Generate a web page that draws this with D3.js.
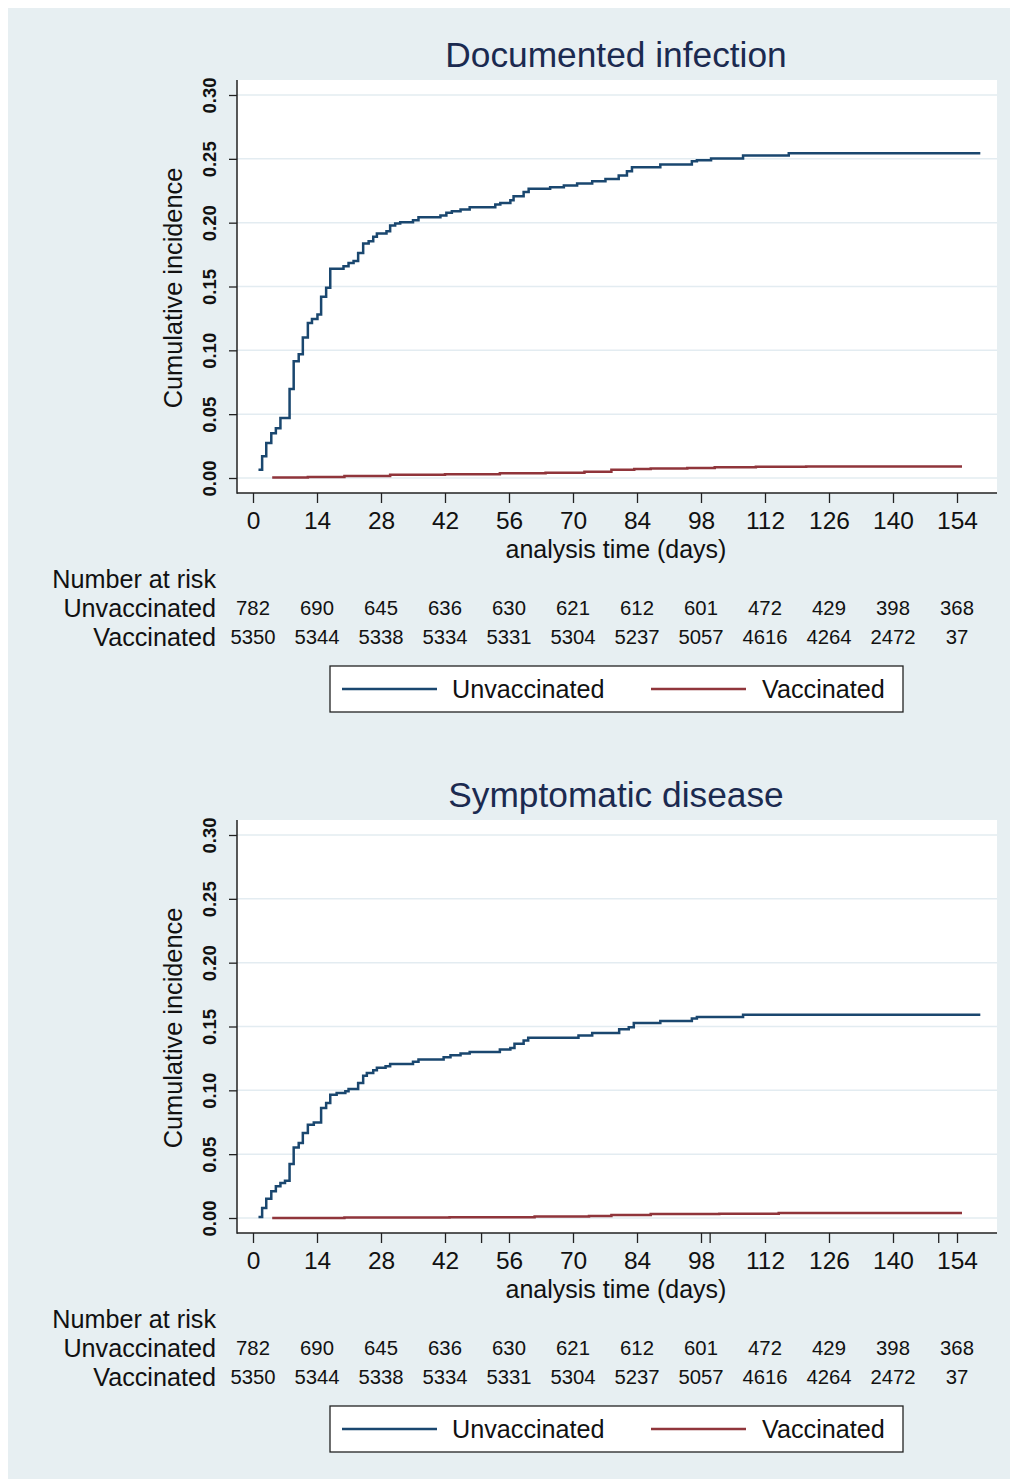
<!DOCTYPE html>
<html>
<head>
<meta charset="utf-8">
<script src="https://cdn.jsdelivr.net/npm/d3@7"></script>
<style>
  html, body { margin: 0; padding: 0; background: #ffffff; }
  svg { display: block; }
  text { font-family: "Liberation Sans", Arial, Helvetica, sans-serif; }
</style>
</head>
<body>
<svg id="chart" width="1010" height="1479"></svg>
<script>
// ---------------- data ----------------
const panelTitles = ["Documented infection", "Symptomatic disease"];
const seriesNames = ["Unvaccinated", "Vaccinated"];
const xTicks = [0, 14, 28, 42, 56, 70, 84, 98, 112, 126, 140, 154];
const yTicks = [0, 0.05, 0.10, 0.15, 0.20, 0.25, 0.30];
const extraTicksBottom = [50, 100, 150];
const riskUnvaccinated = [782, 690, 645, 636, 630, 621, 612, 601, 472, 429, 398, 368];
const riskVaccinated = [5350, 5344, 5338, 5334, 5331, 5304, 5237, 5057, 4616, 4264, 2472, 37];

// Documented infection — unvaccinated (step times in days, cumulative incidence)
const docUnvacDays = [1.2, 2, 2.9, 4, 5, 6, 8, 8.9, 10, 10.9, 12, 12.9, 14.1, 14.9, 16, 16.9, 19.8, 20.9,
  22, 23, 24.1, 25.3, 26.3, 27.1, 29.2, 30, 31.1, 32.2, 35, 36.2, 41, 42.3, 43.5, 45.4, 47.4, 53,
  54.1, 56.3, 57, 59.2, 60.3, 65, 68, 70.9, 74.2, 77.1, 80, 81.8, 82.9, 89.1, 96, 97.1, 100.2, 107.2,
  117.2, 159.1];
const docUnvacVals = [0.0065, 0.017, 0.0274, 0.035, 0.039, 0.047, 0.0697, 0.0914, 0.097, 0.110, 0.1215, 0.1246,
  0.128, 0.142, 0.149, 0.164, 0.1658, 0.1685, 0.170, 0.1763, 0.1836, 0.1854, 0.1889, 0.1915,
  0.1933, 0.1977, 0.1993, 0.2003, 0.2019, 0.2042, 0.2056, 0.2077, 0.209, 0.2103, 0.212, 0.2142,
  0.2155, 0.2176, 0.2207, 0.2241, 0.2265, 0.2278, 0.2291, 0.2306, 0.2324, 0.2343, 0.2369, 0.2403,
  0.2434, 0.2455, 0.2481, 0.2489, 0.2502, 0.2526, 0.2544, 0.2544];
// Documented infection — vaccinated
const docVacDays = [4.2, 12, 20, 30, 42, 54, 64, 72.5, 78.4, 83.4, 87, 95, 101, 110, 121, 155.1];
const docVacVals = [0.0003, 0.0008, 0.0015, 0.0026, 0.003, 0.0037, 0.0042, 0.0048, 0.0065, 0.007,
  0.0074, 0.0079, 0.0085, 0.0088, 0.0091, 0.0091];

// Symptomatic disease — unvaccinated
const symUnvacDays = [1.2, 2, 2.9, 4, 5, 6, 7, 8, 8.9, 10, 10.9, 12, 13.3, 14.9, 16, 16.9, 18.3, 20.2, 20.9,
  23, 24.1, 24.9, 26.3, 27.1, 29, 30, 35, 36.2, 41.7, 43.2, 45.4, 47.4, 54, 56.3, 57.2, 59.2, 60.2,
  71.2, 74.2, 80.1, 82.2, 83.3, 89.1, 96, 97.1, 107.2, 159.1];
const symUnvacVals = [0.0008, 0.0078, 0.0151, 0.0209, 0.0248, 0.0274, 0.0292, 0.0423, 0.0553, 0.0588, 0.0666,
  0.0731, 0.0749, 0.0862, 0.0901, 0.0966, 0.098, 0.0992, 0.1011, 0.1058, 0.1115, 0.1136, 0.1157,
  0.1176, 0.1188, 0.1207, 0.1223, 0.1241, 0.1259, 0.1275, 0.1288, 0.1301, 0.1319, 0.1332, 0.1364,
  0.139, 0.1411, 0.1429, 0.145, 0.1478, 0.1494, 0.1528, 0.1544, 0.1562, 0.1575, 0.1593, 0.1593];
// Symptomatic disease — vaccinated
const symVacDays = [4.2, 20, 43, 61.6, 73.5, 78.4, 87, 102, 115, 155.1];
const symVacVals = [0.0, 0.0003, 0.0005, 0.0012, 0.0016, 0.0023, 0.0031, 0.0034, 0.0039, 0.0039];

// ---------------- drawing ----------------
const colors = ["#1a476f", "#90353b"];
const bg = "#e7eff2";
const svg = d3.select("#chart");

svg.append("rect").attr("x", 8).attr("y", 8).attr("width", 1002).attr("height", 1471).attr("fill", bg);

const plotLeft = 237, plotRight = 997, plotTop = 80, plotBottom = 493;
const x = d3.scaleLinear().domain([0, 154]).range([253, 957]);
const y = d3.scaleLinear().domain([0, 0.30]).range([478, 95]);

function drawPanel(idx, offset, curves, extraTicks) {
  const g = svg.append("g").attr("transform", `translate(0,${offset})`);

  // title
  g.append("text").attr("x", 616).attr("y", 67).attr("text-anchor", "middle")
    .attr("font-size", 35.3).attr("fill", "#1b2a50").text(panelTitles[idx]);

  // plot region
  g.append("rect").attr("x", plotLeft).attr("y", plotTop)
    .attr("width", plotRight - plotLeft).attr("height", plotBottom - plotTop).attr("fill", "#ffffff");

  // gridlines
  g.append("g").selectAll("line").data(yTicks).join("line")
    .attr("x1", plotLeft).attr("x2", plotRight)
    .attr("y1", d => y(d)).attr("y2", d => y(d))
    .attr("stroke", "#e3ecf1").attr("stroke-width", 1.5);

  // curves
  const line = d3.line().x(d => x(d[0])).y(d => y(d[1])).curve(d3.curveStepAfter);
  curves.forEach((c, i) => {
    const pts = c.days.map((d, k) => [d, c.vals[k]]);
    g.append("path").datum(pts).attr("d", line).attr("fill", "none")
      .attr("stroke", colors[i]).attr("stroke-width", 2.5);
  });

  // y axis
  const yAxis = d3.axisLeft(y).tickValues(yTicks).tickSize(8).tickPadding(4).tickFormat(d3.format(".2f"));
  const ya = g.append("g").attr("transform", `translate(${plotLeft},0)`).call(yAxis);
  ya.select(".domain").remove();
  ya.selectAll(".tick line").attr("stroke", "#222").attr("stroke-width", 1.3);
  ya.selectAll(".tick text").attr("font-size", 18.5).attr("font-weight", "bold").attr("fill", "#111")
    .attr("text-anchor", "middle").attr("x", null).attr("dy", null)
    .attr("transform", "translate(-21,0) rotate(-90)").attr("y", 0);
  g.append("line").attr("x1", plotLeft).attr("x2", plotLeft).attr("y1", plotTop).attr("y2", plotBottom + 0.7)
    .attr("stroke", "#222").attr("stroke-width", 1.5);

  // x axis
  const xAxis = d3.axisBottom(x).tickValues(xTicks).tickSize(10).tickPadding(9).tickFormat(d3.format("d"));
  const xa = g.append("g").attr("transform", `translate(0,${plotBottom})`).call(xAxis);
  xa.select(".domain").remove();
  xa.selectAll(".tick line").attr("stroke", "#222").attr("stroke-width", 1.3);
  xa.selectAll(".tick text").attr("font-size", 24.5).attr("fill", "#111");
  if (extraTicks) {
    xa.append("g").selectAll("line").data(extraTicks).join("line")
      .attr("x1", d => x(d)).attr("x2", d => x(d)).attr("y1", 0).attr("y2", 10)
      .attr("stroke", "#222").attr("stroke-width", 1.3);
  }
  g.append("line").attr("x1", plotLeft).attr("x2", plotRight).attr("y1", plotBottom).attr("y2", plotBottom)
    .attr("stroke", "#222").attr("stroke-width", 1.5);

  // axis titles
  g.append("text").attr("transform", "translate(182,288) rotate(-90)").attr("text-anchor", "middle")
    .attr("font-size", 25.3).attr("fill", "#111").text("Cumulative incidence");
  g.append("text").attr("x", 616).attr("y", 558).attr("text-anchor", "middle")
    .attr("font-size", 25).attr("fill", "#111").text("analysis time (days)");

  // number at risk
  g.append("text").attr("x", 216).attr("y", 588).attr("text-anchor", "end")
    .attr("font-size", 25.2).attr("fill", "#111").text("Number at risk");
  g.append("text").attr("x", 216).attr("y", 617).attr("text-anchor", "end")
    .attr("font-size", 25.2).attr("fill", "#111").text(seriesNames[0]);
  g.append("text").attr("x", 216).attr("y", 646).attr("text-anchor", "end")
    .attr("font-size", 25.2).attr("fill", "#111").text(seriesNames[1]);
  g.append("g").selectAll("text").data(riskUnvaccinated).join("text")
    .attr("x", (d, i) => x(xTicks[i])).attr("y", 615).attr("text-anchor", "middle")
    .attr("font-size", 20.3).attr("fill", "#111").text(d => d);
  g.append("g").selectAll("text").data(riskVaccinated).join("text")
    .attr("x", (d, i) => x(xTicks[i])).attr("y", 644).attr("text-anchor", "middle")
    .attr("font-size", 20.3).attr("fill", "#111").text(d => d);

  // legend
  const lg = g.append("g");
  lg.append("rect").attr("x", 330).attr("y", 666).attr("width", 573).attr("height", 46)
    .attr("fill", "#ffffff").attr("stroke", "#222").attr("stroke-width", 1.3);
  const legendItems = [{lx: 342, tx: 452}, {lx: 651, tx: 762}];
  legendItems.forEach((it, i) => {
    lg.append("line").attr("x1", it.lx).attr("x2", it.lx + 95).attr("y1", 689).attr("y2", 689)
      .attr("stroke", colors[i]).attr("stroke-width", 2.5);
    lg.append("text").attr("x", it.tx).attr("y", 698).attr("font-size", 25.2).attr("fill", "#111")
      .text(seriesNames[i]);
  });
}

drawPanel(0, 0, [
  {days: docUnvacDays, vals: docUnvacVals},
  {days: docVacDays, vals: docVacVals}
], null);
drawPanel(1, 740, [
  {days: symUnvacDays, vals: symUnvacVals},
  {days: symVacDays, vals: symVacVals}
], extraTicksBottom);
</script>
</body>
</html>
